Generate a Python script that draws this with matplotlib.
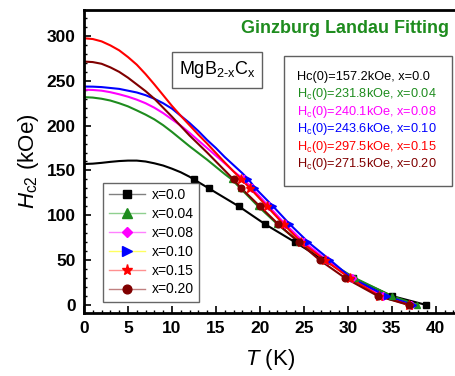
import matplotlib
matplotlib.use("Agg")
import matplotlib.pyplot as plt
from matplotlib.lines import Line2D
from matplotlib.patches import Rectangle
from matplotlib.ticker import MultipleLocator

plt.rcParams['font.family'] = ['Liberation Sans', 'DejaVu Sans']
plt.rcParams['mathtext.fontset'] = 'custom'
plt.rcParams['mathtext.rm'] = 'Liberation Sans'
plt.rcParams['mathtext.it'] = 'Liberation Sans:italic'
plt.rcParams['mathtext.bf'] = 'Liberation Sans:bold'

labels = ["x=0.0", "x=0.04", "x=0.08", "x=0.10", "x=0.15", "x=0.20"]
h0_values = [157.2, 231.8, 240.1, 243.6, 297.5, 271.5]
fit_colors = ["#000000", "#1e8c1e", "#ff00ff", "#0000ff", "#ff0000", "#800000"]
legend_line_colors = ["#808080", "#8fd08f", "#ff80ff", "#ffff60", "#ff9090", "#c08080"]
markers = ["s", "^", "D", ">", "*", "o"]

# measured points (H in kOe)
H_pts = [140, 130, 110, 90, 70, 50, 30, 10, 0]
T_x000 = [12.5, 14.2, 17.6, 20.6, 24.0, 27.3, 30.6, 35.0, 38.9]
T_x004 = [16.8, 17.8, 19.8, 22.0, 24.5, 27.5, 30.8, 35.0, 37.9]
T_x008 = [18.2, 19.1, 21.0, 22.9, 25.0, 27.6, 30.5, 34.0, 37.2]
T_x010 = [18.7, 19.5, 21.5, 23.4, 25.5, 28.0, 30.4, 34.4, 37.4]
T_x015 = [17.9, 18.9, 20.8, 22.7, 24.7, 27.4, 30.2, 33.6, 37.0]
T_x020 = [17.0, 17.9, 20.0, 22.1, 24.4, 26.8, 29.7, 33.4, 36.9]
T_data = [T_x000, T_x004, T_x008, T_x010, T_x015, T_x020]

# fitted curves: low-temperature part (T = 0, 1, 2, ...)
fit_T_low = [0, 1, 2, 3, 4, 5, 6, 7, 8, 9, 10, 11, 12, 13, 14, 15, 16, 17, 18]
fit_H_low = [
    [157.2, 157.6, 158.5, 159.6, 160.5, 161, 161, 160, 158, 155.5, 152, 148, 143],
    [231.8, 231.3, 230, 228, 225, 221.5, 217, 212.3, 207, 200.5, 193, 185, 177, 169.5, 162, 154, 146],
    [240.1, 239.8, 239, 237.3, 235, 232.3, 229, 225, 220, 214, 207, 200, 192, 183.5, 175, 166.5, 158, 149],
    [243.6, 243.5, 243, 242, 241, 239, 237, 234, 230, 225, 219, 211, 203, 194, 184, 175, 165, 156, 147],
    [297.5, 296.6, 294, 289.5, 284, 276.5, 268, 257.5, 246, 234, 222, 211, 200.5, 190, 180, 169.5, 159, 149],
    [271.5, 270.9, 269, 265, 260, 253.5, 246, 238.5, 230, 220, 210, 199.5, 189, 179.5, 170, 160, 150],
]

fig = plt.figure(figsize=(4.56, 3.76), dpi=100)
ax = fig.add_axes([84/456, 63/376, 1 - 84/456, 303/376])

for i in range(6):
    hl = fit_H_low[i]
    tl = fit_T_low[:len(hl)]
    ft = list(tl) + list(T_data[i])
    fh = list(hl) + list(H_pts)
    ax.plot(ft, fh, color=fit_colors[i], lw=1.5, zorder=2 + i * 0.1,
            solid_joinstyle='round')

mk_sizes = [3.8, 5, 4, 5, 6.5, 4.8]
for i in range(6):
    ax.plot(T_data[i], H_pts, linestyle='none', marker=markers[i],
            color=fit_colors[i], ms=mk_sizes[i], zorder=4)

ax.set_xlim(0, 42.3)
ax.set_ylim(-9, 329)
ax.xaxis.set_major_locator(MultipleLocator(5))
ax.xaxis.set_minor_locator(MultipleLocator(1))
ax.yaxis.set_major_locator(MultipleLocator(50))
ax.yaxis.set_minor_locator(MultipleLocator(10))
ax.tick_params(which='both', direction='in', top=False, right=False)
ax.tick_params(which='major', length=5, width=1.2, labelsize=12.5, pad=6)
ax.tick_params(which='minor', length=2.5, width=1.0)
for lab in ax.get_xticklabels() + ax.get_yticklabels():
    lab.set_fontweight('bold')
for s in ax.spines.values():
    s.set_linewidth(2)
ax.spines['right'].set_visible(False)

ax.set_xlabel(r'$\it{T}$ (K)', fontsize=16, labelpad=8)
ax.set_ylabel(r'$\it{H}_{\mathregular{c2}}$ (kOe)', fontsize=16, labelpad=4)

ax.text(0.98, 0.94, 'Ginzburg Landau Fitting', transform=ax.transAxes,
        ha='right', va='center', fontsize=13, fontweight='bold', color='#1e8c1e')

ax.text((217 - 84) / 372, (376 - 70 - 63) / 303,
        r'MgB$_{\mathregular{2\text{-}x}}$C$_{\mathregular{x}}$', transform=ax.transAxes,
        ha='center', va='center', fontsize=13,
        bbox=dict(boxstyle='square,pad=0.4', fc='white', ec='#606060', lw=1))

info = ["Hc(0)=157.2kOe, x=0.0"] + [
    r"H$_{\mathregular{c}}$(0)=%.1fkOe, %s" % (h0_values[i], labels[i]) for i in range(1, 6)
]
ax.add_patch(Rectangle(((284 - 84) / 372, (376 - 186 - 63) / 303), 168 / 372, 130 / 303,
                       transform=ax.transAxes, fc='white', ec='#606060', lw=1, zorder=5))
ys = [77.3, 94.3, 111.7, 129, 146.7, 164]
for i in range(6):
    ax.text((297 - 84) / 372, (376 - ys[i] - 63) / 303, info[i], transform=ax.transAxes,
            ha='left', va='center', fontsize=9.2, color=fit_colors[i], zorder=6)

handles = [Line2D([0], [0], color=legend_line_colors[i], lw=1, marker=markers[i],
                  markerfacecolor=fit_colors[i], markeredgecolor=fit_colors[i],
                  ms=mk_sizes[i] + 1.5) for i in range(6)]
leg = ax.legend(handles, labels, loc='lower left', bbox_to_anchor=((103 - 84) / 372, (376 - 302 - 63) / 303),
                fontsize=10, frameon=True, fancybox=False, edgecolor='#404040',
                handlelength=2.6, handletextpad=0.5, labelspacing=0.35, borderpad=0.4,
                borderaxespad=0)
leg.get_frame().set_linewidth(1)

fig.savefig("out.png", dpi=100)
